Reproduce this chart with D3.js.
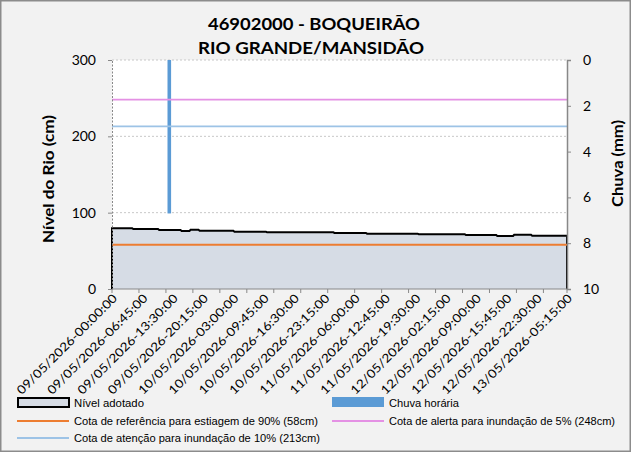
<!DOCTYPE html>
<html><head><meta charset="utf-8">
<script src="https://cdn.jsdelivr.net/npm/d3@7"></script>
<style>body{margin:0;background:#fff}</style>
</head><body><svg id="c" width="631" height="452"></svg>
<script>
const titleLines = ["46902000 - BOQUEIRÃO", "RIO GRANDE/MANSIDÃO"];
// River level (cm), as runs of 15-min readings: value and number of readings
const levelRunValues  = [79.5, 78.6, 77.3, 76.0, 77.7, 76.4, 75.1, 74.2, 73.4, 72.5, 71.8, 70.7, 69.4, 71.1, 69.8];
const levelRunLengths = [19,   23,   20,   8,    8,    31,   29,   60,   29,   46,   42,   28,   15,   16,   32];
const rainTimes  = ["09/05/2026-12:45:00"];
const rainValues = [6.7];
const refNames  = ["Cota de referência para estiagem de 90% (58cm)", "Cota de alerta para inundação de 5% (248cm)", "Cota de atenção para inundação de 10% (213cm)"];
const refValues = [58, 248, 213];
const refColors = ["#ed7d31", "#e491e4", "#9dc3e6"];
const xTickLabels = ["09/05/2026-00:00:00","09/05/2026-06:45:00","09/05/2026-13:30:00","09/05/2026-20:15:00","10/05/2026-03:00:00","10/05/2026-09:45:00","10/05/2026-16:30:00","10/05/2026-23:15:00","11/05/2026-06:00:00","11/05/2026-12:45:00","11/05/2026-19:30:00","12/05/2026-02:15:00","12/05/2026-09:00:00","12/05/2026-15:45:00","12/05/2026-22:30:00","13/05/2026-05:15:00"];
const yLeftTicks = [0, 100, 200, 300];
const yRightTicks = [0, 2, 4, 6, 8, 10];

// expand level runs into readings
const level = [];
levelRunValues.forEach((v, i) => { for (let k = 0; k < levelRunLengths[i]; k++) level.push(v); });
const fmt = d3.timeFormat("%d/%m/%Y-%H:%M:%S");
const t0 = d3.timeParse("%d/%m/%Y-%H:%M:%S")(xTickLabels[0]);
const times = level.map((_, i) => fmt(new Date(t0.getTime() + i * 15 * 60000)));

const svg = d3.select("#c");
const W = 631, H = 452;
const m = {l: 112, r: 64, t: 60, b: 163};
const x = d3.scalePoint().domain(times).range([m.l, W - m.r]);
const yL = d3.scaleLinear().domain([0, 300]).range([H - m.b, m.t]);
const yR = d3.scaleLinear().domain([0, 10]).range([m.t, H - m.b]);
const ff = "Lato, 'Open Sans', sans-serif";

svg.append("rect").attr("x", 0.75).attr("y", 0.75).attr("width", W - 1.5).attr("height", H - 1.5)
  .attr("fill", "#f2f2f2").attr("stroke", "#8c8c8c").attr("stroke-width", 1.5);
svg.append("rect").attr("x", m.l).attr("y", m.t).attr("width", W - m.l - m.r).attr("height", H - m.t - m.b).attr("fill", "#fff");

// gridlines
svg.append("g").selectAll("line").data(yLeftTicks.filter(d => d > 0)).join("line")
  .attr("x1", m.l).attr("x2", W - m.r).attr("y1", d => yL(d)).attr("y2", d => yL(d))
  .attr("stroke", "#c8c8c8").attr("stroke-dasharray", "2,2");

// area
const area = d3.area().x((d, i) => x(times[i])).y0(yL(0)).y1(d => yL(d));
svg.append("path").datum(level).attr("d", area).attr("fill", "#d6dce5");
const outline = d3.line().x(d => d[0]).y(d => d[1]);
const pts = [[x(times[0]), yL(0)]].concat(level.map((d, i) => [x(times[i]), yL(d)])).concat([[x(times[times.length - 1]), yL(0)]]);
svg.append("path").attr("d", outline(pts)).attr("fill", "none").attr("stroke", "#000").attr("stroke-width", 2);

// rain bars
svg.append("g").selectAll("rect").data(rainValues).join("rect")
  .attr("x", (d, i) => x(rainTimes[i]) - 1.8).attr("width", 3.6)
  .attr("y", yR(0)).attr("height", d => yR(d) - yR(0)).attr("fill", "#5b9bd5");

// reference lines
svg.append("g").selectAll("line").data(refValues).join("line")
  .attr("x1", m.l).attr("x2", W - m.r).attr("y1", d => yL(d)).attr("y2", d => yL(d))
  .attr("stroke", (d, i) => refColors[i]).attr("stroke-width", 1.8);

// left axis (dotted)
const gL = svg.append("g").attr("transform", `translate(${m.l},0)`)
  .call(d3.axisLeft(yL).tickValues(yLeftTicks).tickSize(4).tickPadding(12));
gL.select(".domain").attr("stroke", "#888").attr("stroke-dasharray", "2,1.5");
gL.selectAll(".tick line").attr("stroke", "#888");
gL.selectAll("text").attr("font-family", ff).attr("font-size", 14).attr("fill", "#000");

// right axis
const gR = svg.append("g").attr("transform", `translate(${W - m.r},0)`)
  .call(d3.axisRight(yR).tickValues(yRightTicks).tickSize(4).tickPadding(12));
gR.select(".domain").attr("stroke", "#888").attr("stroke-width", 1.5);
gR.selectAll(".tick line").attr("stroke", "#888");
gR.selectAll("text").attr("font-family", ff).attr("font-size", 14).attr("fill", "#000");

// x axis
const gX = svg.append("g").attr("transform", `translate(0,${H - m.b})`);
gX.append("line").attr("x1", m.l).attr("x2", W - m.r).attr("stroke", "#888").attr("stroke-width", 1);
gX.selectAll("line.tk").data(times.filter((d, i) => i % 24 === 0).concat([times[times.length - 1]])).join("line")
  .attr("class", "tk").attr("x1", d => x(d)).attr("x2", d => x(d)).attr("y1", 0).attr("y2", 4).attr("stroke", "#888");
gX.selectAll("text").data(xTickLabels).join("text")
  .attr("transform", d => `translate(${x(d) + 6},10) rotate(-45)`)
  .attr("text-anchor", "end").attr("font-family", ff).attr("font-size", 12)
  .attr("textLength", 136).attr("lengthAdjust", "spacingAndGlyphs")
  .attr("fill", "#000").text(d => d);

// titles
svg.append("text").attr("x", 314).attr("y", 30).attr("text-anchor", "middle").attr("font-family", ff)
  .attr("font-weight", "bold").attr("font-size", 17.5).attr("textLength", 212).attr("lengthAdjust", "spacingAndGlyphs").text(titleLines[0]);
svg.append("text").attr("x", 311).attr("y", 54).attr("text-anchor", "middle").attr("font-family", ff)
  .attr("font-weight", "bold").attr("font-size", 17.5).attr("textLength", 226).attr("lengthAdjust", "spacingAndGlyphs").text(titleLines[1]);
svg.append("text").attr("transform", "translate(54,179) rotate(-90)").attr("text-anchor", "middle")
  .attr("font-family", ff).attr("font-weight", "bold").attr("font-size", 15).attr("textLength", 128).attr("lengthAdjust", "spacingAndGlyphs").text("Nível do Rio (cm)");
svg.append("text").attr("transform", "translate(623,163.5) rotate(-90)").attr("text-anchor", "middle")
  .attr("font-family", ff).attr("font-weight", "bold").attr("font-size", 15).attr("textLength", 87).attr("lengthAdjust", "spacingAndGlyphs").text("Chuva (mm)");

// legend
const lf = "'Liberation Sans', Arial, sans-serif";
const lg = svg.append("g").attr("font-family", lf).attr("font-size", 11).attr("fill", "#000");
lg.append("rect").attr("x", 18).attr("y", 398).attr("width", 51).attr("height", 9).attr("fill", "#d6dce5").attr("stroke", "#000").attr("stroke-width", 2);
lg.append("text").attr("x", 74).attr("y", 407).attr("textLength", 70).attr("lengthAdjust", "spacingAndGlyphs").text("Nível adotado");
lg.append("rect").attr("x", 332).attr("y", 397).attr("width", 52).attr("height", 10).attr("fill", "#5b9bd5");
lg.append("text").attr("x", 389).attr("y", 407).attr("textLength", 70).attr("lengthAdjust", "spacingAndGlyphs").text("Chuva horária");
const legPos = [[17, 74, 425, 244], [332, 389, 425, 226], [17, 74, 442, 246]];
refNames.forEach((n, i) => {
  const [lx, tx, ly, tl] = legPos[i];
  lg.append("line").attr("x1", lx).attr("x2", lx + 52).attr("y1", ly - 4).attr("y2", ly - 4).attr("stroke", refColors[i]).attr("stroke-width", 1.8);
  lg.append("text").attr("x", tx).attr("y", ly).attr("textLength", tl).attr("lengthAdjust", "spacingAndGlyphs").text(n);
});
</script></body></html>
